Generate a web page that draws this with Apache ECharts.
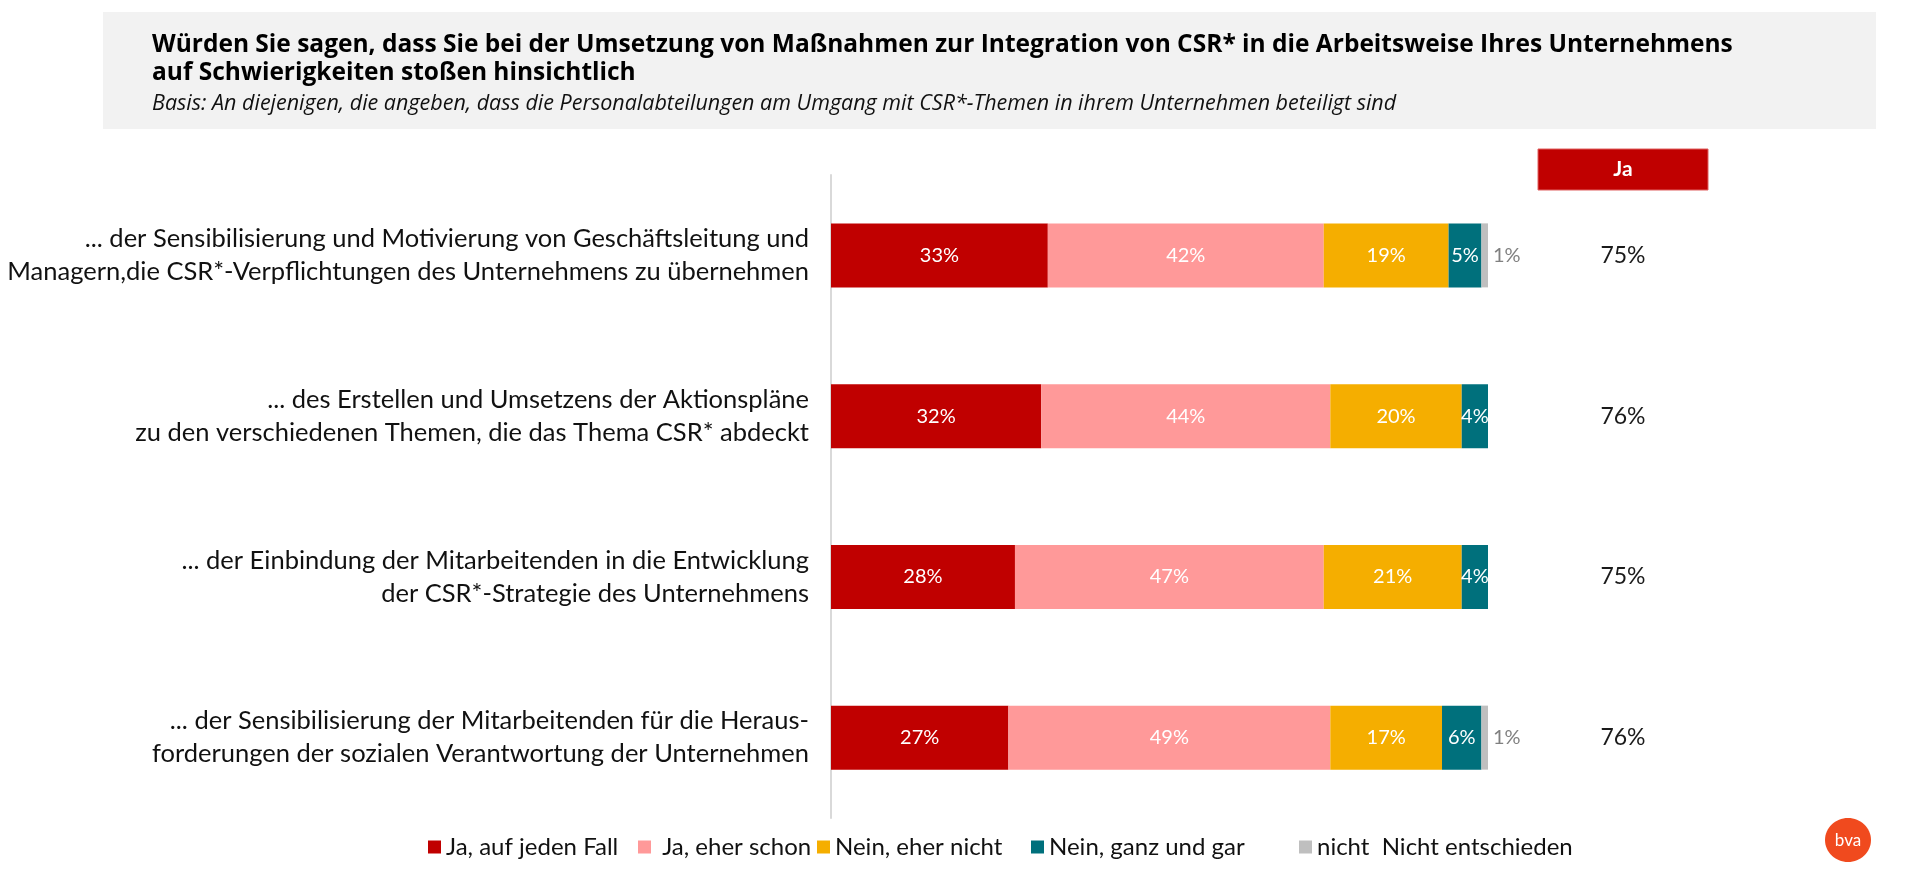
<!DOCTYPE html>
<html>
<head>
<meta charset="utf-8">
<script src="https://cdn.jsdelivr.net/npm/echarts@6/dist/echarts.min.js"></script>
<style>
html,body{margin:0;padding:0;background:#fff;}
#chart{width:1920px;height:874px;}
</style>
</head>
<body>
<div id="chart"></div>
<script>
var categories = [
  '... der Sensibilisierung und Motivierung von Geschäftsleitung und\nManagern,die CSR*-Verpflichtungen des Unternehmens zu übernehmen',
  '... des Erstellen und Umsetzens der Aktionspläne\nzu den verschiedenen Themen, die das Thema CSR* abdeckt',
  '... der Einbindung der Mitarbeitenden in die Entwicklung\nder CSR*-Strategie des Unternehmens',
  '... der Sensibilisierung der Mitarbeitenden für die Heraus-\nforderungen der sozialen Verantwortung der Unternehmen'
];
var seriesNames = ['Ja, auf jeden Fall', 'Ja, eher schon', 'Nein, eher nicht', 'Nein, ganz und gar', 'nicht  Nicht entschieden'];
var jaAufJedenFall = [33, 32, 28, 27];
var jaEherSchon = [42, 44, 47, 49];
var neinEherNicht = [19, 20, 21, 17];
var neinGanzUndGar = [5, 4, 4, 6];
var nichtEntschieden = [1, 0, 0, 1];
var jaTotal = [75, 76, 75, 76];
var colors = ['#C00000', '#FF9999', '#F5AE00', '#00707C', '#BFBFBF'];

var chart = echarts.init(document.getElementById('chart'));

function pctLabel(p) { return p.value > 0 ? p.value + '%' : ''; }

function barSeries(name, data, color, labelPos, labelColor) {
  return {
    name: name,
    type: 'bar',
    stack: 'total',
    data: data,
    barWidth: 64,
    itemStyle: { color: color },
    label: {
      show: true,
      position: labelPos,
      distance: 5,
      formatter: pctLabel,
      color: labelColor,
      fontFamily: 'Lato',
      fontSize: 20
    },
    emphasis: { disabled: true }
  };
}

var legendLefts = [423, 633, 812, 1026, 1294];
var legendPrefix = ['', ' ', '', '', ''];
var legends = seriesNames.map(function (n, i) {
  return {
    data: [n],
    left: legendLefts[i],
    top: 830,
    icon: 'rect',
    itemWidth: 13,
    itemHeight: 13,
    itemGap: 0,
    selectedMode: false,
    formatter: function (name) { return legendPrefix[i] + name; },
    textStyle: { fontFamily: 'Lato', fontSize: 24, color: '#111', padding: [0, 0, 0, 0] }
  };
});

var option = {
  animation: false,
  backgroundColor: '#ffffff',
  title: {
    text: 'Würden Sie sagen, dass Sie bei der Umsetzung von Maßnahmen zur Integration von CSR* in die Arbeitsweise Ihres Unternehmens\nauf Schwierigkeiten stoßen hinsichtlich',
    subtext: 'Basis: An diejenigen, die angeben, dass die Personalabteilungen am Umgang mit CSR*-Themen in ihrem Unternehmen beteiligt sind',
    left: 152,
    top: 31,
    padding: 0,
    itemGap: 5,
    textStyle: { fontFamily: 'Open Sans', fontWeight: 'bold', fontSize: 24.5, lineHeight: 28, color: '#000' },
    subtextStyle: { fontFamily: 'Open Sans', fontStyle: 'italic', fontSize: 21.5, lineHeight: 24, color: '#111' }
  },
  legend: legends,
  graphic: [
    { type: 'rect', z: -10, shape: { x: 103, y: 12, width: 1773, height: 117 }, style: { fill: '#F2F2F2' } },
    { type: 'rect', shape: { x: 1538, y: 149, width: 170, height: 41 }, style: { fill: '#C00000', stroke: '#E06060', lineWidth: 1 } },
    { type: 'text', x: 1623, y: 169.5, style: { text: 'Ja', fill: '#fff', font: 'bold 21px Lato', textAlign: 'center', textVerticalAlign: 'middle' } },
    { type: 'ellipse', shape: { cx: 1848, cy: 840, rx: 23, ry: 22 }, style: { fill: '#F04A1E' } },
    { type: 'text', x: 1848, y: 841, style: { text: 'bva', fill: '#fff', font: '17px Lato', textAlign: 'center', textVerticalAlign: 'middle' } }
  ],
  grid: { left: 831, top: 175, width: 657, height: 643, containLabel: false },
  xAxis: { type: 'value', min: 0, max: 100, show: false },
  yAxis: [
    {
      type: 'category',
      data: categories,
      inverse: true,
      axisLine: { show: true, lineStyle: { color: '#D9D9D9', width: 2 } },
      axisTick: { show: false },
      axisLabel: { margin: 22, fontFamily: 'Lato', fontSize: 25.5, lineHeight: 33, color: '#111', align: 'right' }
    },
    {
      type: 'category',
      data: jaTotal.map(function (v) { return v + '%'; }),
      inverse: true,
      position: 'right',
      axisLine: { show: false },
      axisTick: { show: false },
      axisLabel: { margin: 135, align: 'center', fontFamily: 'Lato', fontSize: 23, color: '#1a1a1a' }
    }
  ],
  series: [
    barSeries(seriesNames[0], jaAufJedenFall, colors[0], 'inside', '#fff'),
    barSeries(seriesNames[1], jaEherSchon, colors[1], 'inside', '#fff'),
    barSeries(seriesNames[2], neinEherNicht, colors[2], 'inside', '#fff'),
    barSeries(seriesNames[3], neinGanzUndGar, colors[3], 'inside', '#fff'),
    barSeries(seriesNames[4], nichtEntschieden, colors[4], 'right', '#808080')
  ]
};
chart.setOption(option);
</script>
</body>
</html>
